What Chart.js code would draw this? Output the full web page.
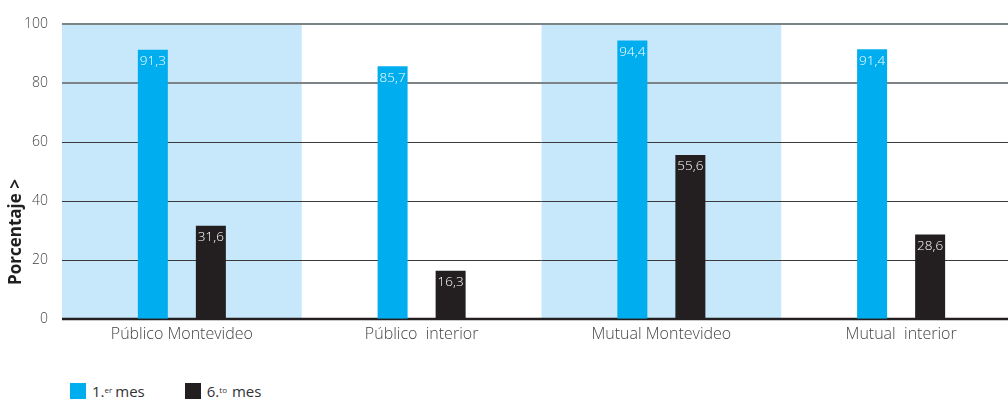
<!DOCTYPE html>
<html lang="es">
<head>
<meta charset="UTF-8">
<title>Porcentaje por mes</title>
<script src="https://cdn.jsdelivr.net/npm/chart.js"></script>
<style>
    html, body { margin: 0; padding: 0; background: #fff; overflow: hidden; }
    body { width: 1008px; height: 399px; position: relative; font-family: "Open Sans", sans-serif; }
    #wrap { position: absolute; left: 0; top: 0; width: 1021px; height: 350px; }
    .legend { position: absolute; top: 381px; left: 70px; display: flex; font-size: 15px; color: #333; }
    .legend span.item { display: flex; align-items: center; margin-right: 40px; }
    .legend i { display: inline-block; width: 16px; height: 16px; margin-right: 6px; }
    .legend sup { font-size: 8px; position: relative; top: -2px; margin-right: 3px; }
    .legend sup.sp { margin-right: 5px; }
</style>
</head>
<body>
<div id="wrap"><canvas id="chart"></canvas></div>
<div class="legend">
    <span class="item"><i style="background:#00aeef"></i>1.<sup>er</sup>mes</span>
    <span class="item"><i style="background:#231f20"></i>6.<sup class="sp">to</sup>mes</span>
</div>
<script>
const categories = ["Público Montevideo", "Público  interior", "Mutual Montevideo", "Mutual  interior"];
const mes1 = [91.3, 85.7, 94.4, 91.4];
const mes6 = [31.6, 16.3, 55.6, 28.6];
const yTicks = [0, 20, 40, 60, 80, 100];
const shaded = [0, 2];

const bandPlugin = {
    id: "bands",
    beforeDatasetsDraw(chart) {
        const { ctx, chartArea, scales } = chart;
        const x = scales.x;
        const w = x.width / categories.length;
        ctx.save();
        ctx.fillStyle = "#c7e8fa";
        shaded.forEach(i => {
            const c = x.getPixelForValue(i);
            ctx.fillRect(c - w / 2, chartArea.top, w, chartArea.bottom - chartArea.top);
        });
        ctx.restore();
    }
};

const gridPlugin = {
    id: "grid",
    beforeDatasetsDraw(chart) {
        const { ctx, chartArea, scales } = chart;
        ctx.save();
        yTicks.forEach(v => {
            const y = Math.round(scales.y.getPixelForValue(v));
            ctx.beginPath();
            if (v === 0) { ctx.strokeStyle = "#231f20"; ctx.lineWidth = 2.5; }
            else if (v >= 80) { ctx.strokeStyle = "#7d8488"; ctx.lineWidth = 2; }
            else { ctx.strokeStyle = "#3a3a3a"; ctx.lineWidth = 1; }
            const off = v === 0 || v >= 80 ? 0 : 0.5;
            ctx.moveTo(chartArea.left, y + off);
            ctx.lineTo(chartArea.right, y + off);
            ctx.stroke();
        });
        ctx.restore();
    }
};

const labelPlugin = {
    id: "labels",
    afterDatasetsDraw(chart) {
        const { ctx } = chart;
        ctx.save();
        ctx.fillStyle = "#ffffff";
        ctx.font = "300 13.5px 'Open Sans'";
        ctx.textAlign = "center";
        ctx.textBaseline = "top";
        chart.data.datasets.forEach((ds, di) => {
            chart.getDatasetMeta(di).data.forEach((bar, i) => {
                ctx.fillText(ds.data[i].toFixed(1).replace(".", ","), bar.x, bar.y + 5);
            });
        });
        // eje y
        ctx.fillStyle = "#231f20";
        ctx.font = "bold 17px 'Open Sans'";
        ctx.translate(16, 232);
        ctx.rotate(-Math.PI / 2);
        ctx.textBaseline = "middle";
        ctx.fillText("Porcentaje >", 0, 0);
        ctx.restore();
    }
};

new Chart(document.getElementById("chart"), {
    type: "bar",
    data: {
        labels: categories,
        datasets: [
            { label: "1.er mes", data: mes1, backgroundColor: "#00aeef", categoryPercentage: 0.484, barPercentage: 0.517 },
            { label: "6.to mes", data: mes6, backgroundColor: "#231f20", categoryPercentage: 0.484, barPercentage: 0.517 }
        ]
    },
    options: {
        responsive: true,
        maintainAspectRatio: false,
        animation: false,
        layout: { padding: { top: 24, left: 10, right: 0, bottom: 0 } },
        plugins: { legend: { display: false }, tooltip: { enabled: false } },
        scales: {
            x: {
                grid: { display: false, drawTicks: false },
                border: { display: false },
                ticks: { color: "#444", font: { family: "Open Sans", size: 16, weight: 300 }, padding: 6 }
            },
            y: {
                min: 0, max: 100,
                afterBuildTicks(axis) { axis.ticks = yTicks.map(v => ({ value: v })); },
                grid: { display: false, drawTicks: false },
                border: { display: false },
                ticks: { color: "#444", font: { family: "Open Sans", size: 14, weight: 300 }, padding: 14 }
            }
        }
    },
    plugins: [bandPlugin, gridPlugin, labelPlugin]
});
</script>
</body>
</html>
